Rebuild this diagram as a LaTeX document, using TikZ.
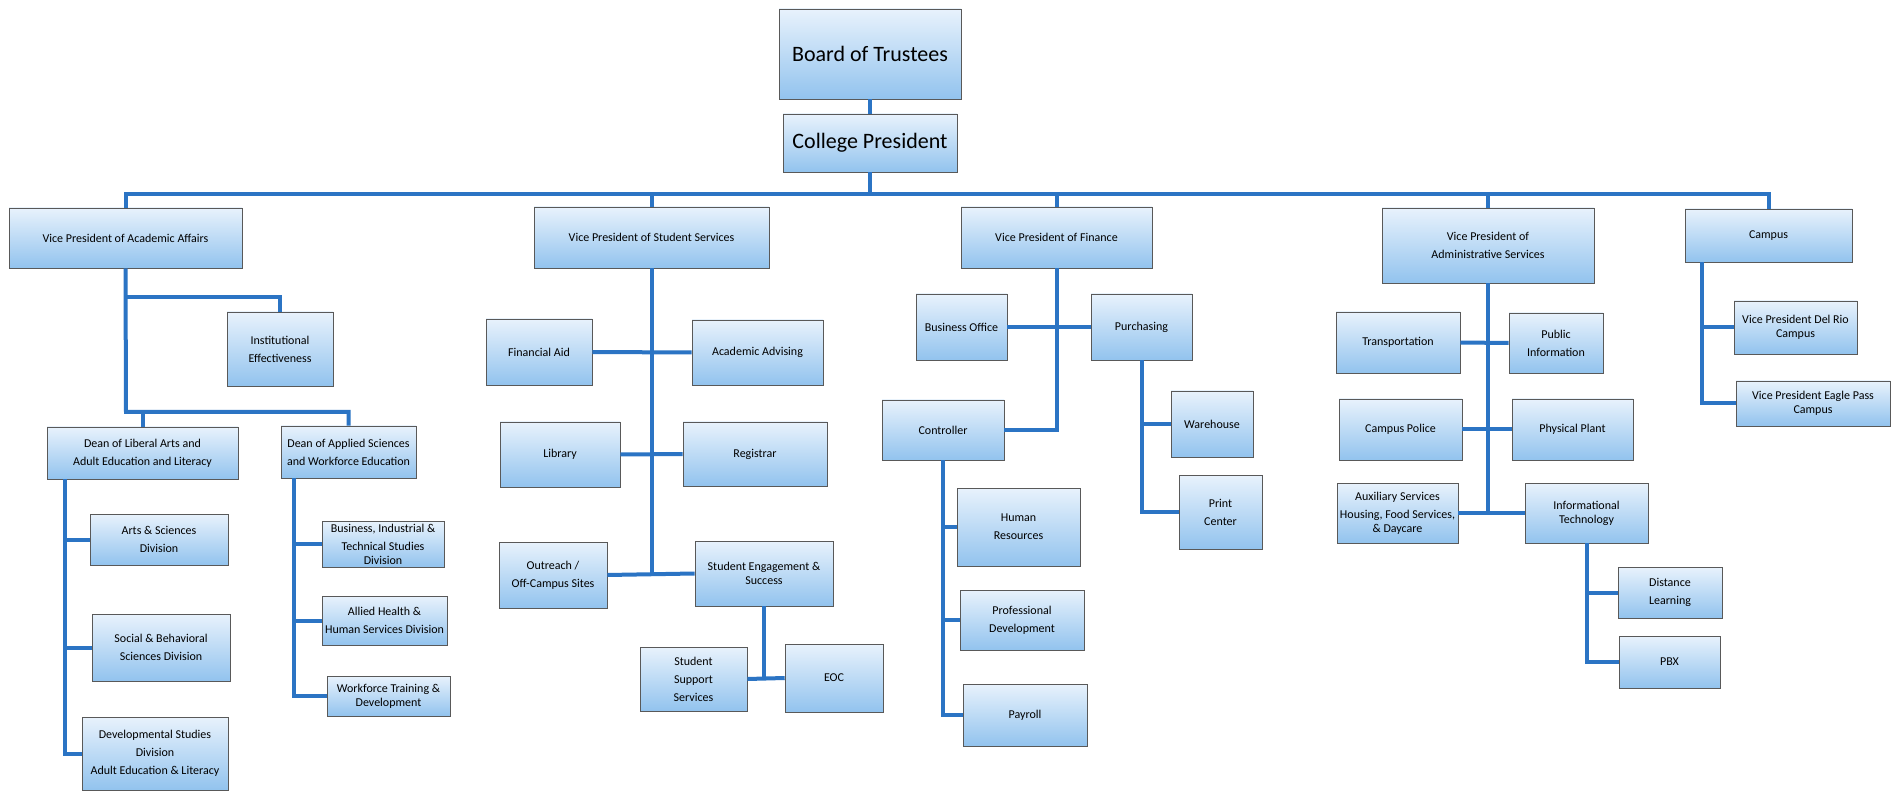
\documentclass[tikz,border=0pt]{standalone}
\usepackage{fontspec}
\setmainfont{Carlito}
\usepackage{tikz}
\usetikzlibrary{shadows}

\definecolor{boxtop}{HTML}{E8F2FC}
\definecolor{boxbot}{HTML}{92C3EE}
\definecolor{linkblue}{HTML}{2B74C4}

\begin{document}
\begin{tikzpicture}[x=1pt, y=-1pt]
	\tikzstyle{box}=[draw=black!65, line width=0.6pt, top color=boxtop, bottom color=boxbot, align=center, inner sep=0pt, font=\fontsize{12}{18}\selectfont, drop shadow={shadow xshift=1.2pt, shadow yshift=-1.2pt, opacity=0.35, fill=black!60}]
	\tikzstyle{tight}=[font=\fontsize{12}{14}\selectfont]
	\tikzstyle{big}=[font=\fontsize{22}{26}\selectfont]
	\tikzstyle{link}=[draw=linkblue, line width=4pt]
	\fill[white] (0,0) rectangle (1896,791);
	\useasboundingbox (0,0) rectangle (1896,791);

	\node[box, big, minimum width=182pt, minimum height=90pt]	(bot)	at (870,54)	{Board of Trustees};
	\node[box, big, minimum width=174pt, minimum height=58pt]	(pres)	at (870,143)	{College President};

	\node[box, minimum width=233pt, minimum height=60pt]	(vpaa)	at (125.5,238)	{Vice President of Academic Affairs};
	\node[box, minimum width=106pt, minimum height=74pt]	(inst)	at (280,349)	{Institutional\\Effectiveness};
	\node[box, minimum width=191pt, minimum height=52pt]	(dla)	at (142.5,453)	{Dean of Liberal Arts and\\Adult Education and Literacy};
	\node[box, minimum width=135pt, minimum height=52pt]	(das)	at (348.5,452)	{Dean of Applied Sciences\\and Workforce Education};
	\node[box, minimum width=138pt, minimum height=51pt]	(arts)	at (159,539.5)	{Arts \& Sciences\\Division};
	\node[box, minimum width=138pt, minimum height=67pt]	(soc)	at (161,647.5)	{Social \& Behavioral\\Sciences Division};
	\node[box, minimum width=146pt, minimum height=73pt]	(dev)	at (155,753.5)	{Developmental Studies\\Division\\Adult Education \& Literacy};
	\node[box, tight, minimum width=122pt, minimum height=46pt]	(bit)	at (383,544)	{Business, Industrial \&\\[4pt]Technical Studies\\Division};
	\node[box, minimum width=125pt, minimum height=49pt]	(ahs)	at (384.5,620.5)	{Allied Health \&\\Human Services Division};
	\node[box, tight, minimum width=123pt, minimum height=40pt]	(wtd)	at (388.5,696)	{Workforce Training \&\\Development};

	\node[box, minimum width=235pt, minimum height=61pt]	(vpss)	at (651.5,237.5)	{Vice President of Student Services};
	\node[box, minimum width=106pt, minimum height=66pt]	(fa)	at (539,352)	{Financial Aid};
	\node[box, minimum width=131pt, minimum height=65pt]	(aa)	at (757.5,352.5)	{Academic Advising};
	\node[box, minimum width=120pt, minimum height=65pt]	(lib)	at (560,454.5)	{Library};
	\node[box, minimum width=144pt, minimum height=64pt]	(reg)	at (755,454)	{Registrar};
	\node[box, minimum width=108pt, minimum height=66pt]	(out)	at (553,575)	{Outreach /\\Off-Campus Sites};
	\node[box, tight, minimum width=138pt, minimum height=65pt]	(sea)	at (764,573.5)	{Student Engagement \&\\Success};
	\node[box, minimum width=107pt, minimum height=64pt]	(sss)	at (693.5,679)	{Student\\Support\\Services};
	\node[box, minimum width=98pt, minimum height=68pt]	(eoc)	at (834,678)	{EOC};

	\node[box, minimum width=191pt, minimum height=61pt]	(vpf)	at (1056.5,237.5)	{Vice President of Finance};
	\node[box, minimum width=91pt, minimum height=66pt]	(bo)	at (961.5,327)	{Business Office};
	\node[box, minimum width=101pt, minimum height=66pt]	(pur)	at (1141.5,327)	{Purchasing};
	\node[box, minimum width=122pt, minimum height=60pt]	(ctl)	at (943,430)	{Controller};
	\node[box, minimum width=82pt, minimum height=66pt]	(wh)	at (1212,424)	{Warehouse};
	\node[box, minimum width=83pt, minimum height=74pt]	(pc)	at (1220.5,512)	{Print\\Center};
	\node[box, minimum width=123pt, minimum height=78pt]	(hr)	at (1018.5,527)	{Human\\Resources};
	\node[box, minimum width=124pt, minimum height=60pt]	(pd)	at (1022,620)	{Professional\\Development};
	\node[box, minimum width=124pt, minimum height=62pt]	(pay)	at (1025,715)	{Payroll};

	\node[box, minimum width=212pt, minimum height=75pt]	(vpas)	at (1488,245.5)	{Vice President of\\Administrative Services};
	\node[box, minimum width=124pt, minimum height=61pt]	(tra)	at (1398,342.5)	{Transportation};
	\node[box, minimum width=94pt, minimum height=60pt]	(pub)	at (1556,343)	{Public\\Information};
	\node[box, minimum width=123pt, minimum height=61pt]	(cp)	at (1400.5,429.5)	{Campus Police};
	\node[box, minimum width=121pt, minimum height=61pt]	(pp)	at (1572.5,429.5)	{Physical Plant};
	\node[box, tight, minimum width=121pt, minimum height=60pt]	(aux)	at (1397.5,513)	{Auxiliary Services\\[4pt]Housing, Food Services,\\\& Daycare};
	\node[box, tight, minimum width=123pt, minimum height=60pt]	(it)	at (1586.5,513)	{Informational\\Technology};
	\node[box, minimum width=104pt, minimum height=51pt]	(dl)	at (1670,592.5)	{Distance\\Learning};
	\node[box, minimum width=101pt, minimum height=52pt]	(pbx)	at (1669.5,662)	{PBX};

	\node[box, minimum width=167pt, minimum height=53pt]	(cam)	at (1768.5,235.5)	{Campus};
	\node[box, tight, minimum width=123pt, minimum height=53pt]	(vdr)	at (1795.5,327.5)	{Vice President Del Rio\\Campus};
	\node[box, tight, minimum width=154pt, minimum height=45pt]	(vep)	at (1813,403.5)	{Vice President Eagle Pass\\Campus};

	% top
	\draw[link] (bot) -- (pres);
	\draw[link] (vpaa.north) |- (cam.north |- 0,194) -- (cam.north);
	\draw[link] (pres.south) -- (pres.south |- 0,194);
	\draw[link] (vpss.north) -- (vpss.north |- 0,194);
	\draw[link] (vpf.north) -- (vpf.north |- 0,194);
	\draw[link] (vpas.north) -- (vpas.north |- 0,194);

	% academic affairs
	\coordinate (aaI) at (126,297);
	\coordinate (aaD) at (126,412);
	\draw[link] (vpaa.south) -- (aaD) -| (das.north);
	\draw[link] (aaI) -| (inst.north);
	\draw[link] (dla.north) -- (dla.north |- aaD);
	\coordinate (la) at ([xshift=18pt]dla.south west);
	\draw[link] (la) |- (dev.west);
	\draw[link] (la |- arts.west) -- (arts.west);
	\draw[link] (la |- soc.west) -- (soc.west);
	\coordinate (as) at ([xshift=13pt]das.south west);
	\draw[link] (as) |- (wtd.west);
	\draw[link] (as |- bit.west) -- (bit.west);
	\draw[link] (as |- ahs.west) -- (ahs.west);

	% student services
	\draw[link] (vpss.south) -- (vpss.south |- out.east);
	\draw[link] (fa.east) -- (aa.west);
	\draw[link] (lib.east) -- (reg.west);
	\draw[link] (out.east) -- (sea.west);
	\draw[link] (sea.south) -- (sea.south |- eoc.west);
	\draw[link] (sss.east) -- (eoc.west);

	% finance
	\draw[link] (vpf.south) |- (ctl.east);
	\draw[link] (bo.east) -- (pur.west);
	\draw[link] (pur.south) |- (pc.west);
	\draw[link] (pur.south |- wh.west) -- (wh.west);
	\draw[link] (ctl.south) |- (pay.west);
	\draw[link] (ctl.south |- hr.west) -- (hr.west);
	\draw[link] (ctl.south |- pd.west) -- (pd.west);

	% administrative services
	\draw[link] (vpas.south) -- (vpas.south |- it.west);
	\draw[link] (tra.east) -- (pub.west);
	\draw[link] (cp.east) -- (pp.west);
	\draw[link] (aux.east) -- (it.west);
	\draw[link] (it.south) |- (pbx.west);
	\draw[link] (it.south |- dl.west) -- (dl.west);

	% campus
	\coordinate (cm) at ([xshift=17pt]cam.south west);
	\draw[link] (cm) |- (vep.west);
	\draw[link] (cm |- vdr.west) -- (vdr.west);
\end{tikzpicture}
\end{document}
